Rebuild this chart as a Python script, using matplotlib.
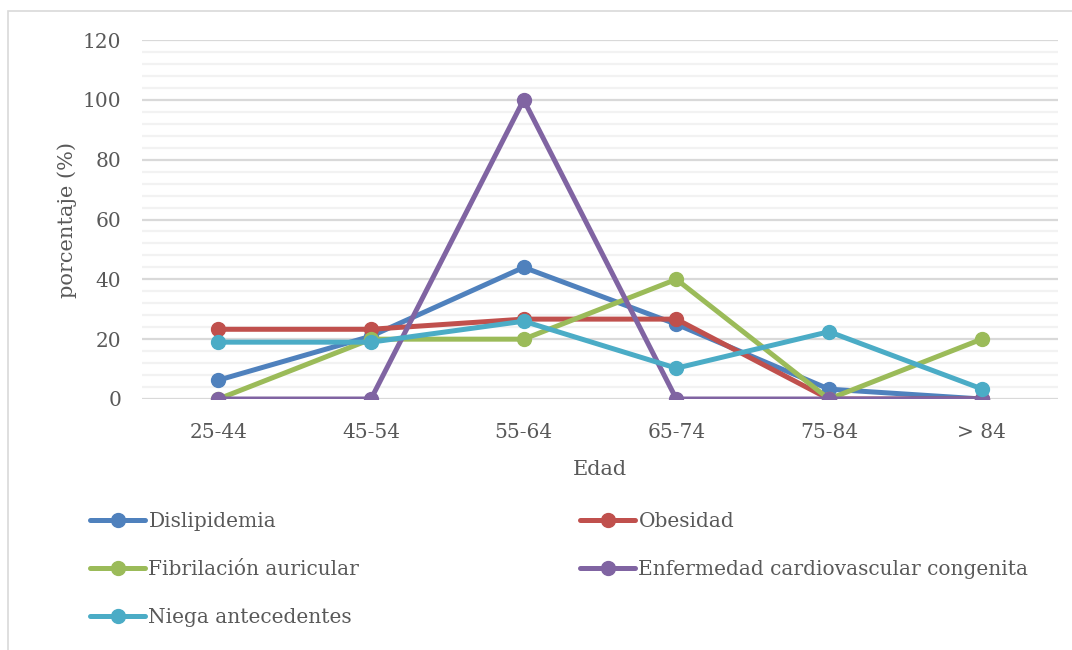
import matplotlib.pyplot as plt
from matplotlib.patches import Rectangle
from matplotlib.lines import Line2D

# age groups and percentage per antecedent
edades = ['25-44', '45-54', '55-64', '65-74', '75-84', '> 84']
dislipidemia = [6.3, 21, 44, 25, 3.3, 0]
obesidad = [23.3, 23.3, 26.7, 26.7, 0, 0]
fibrilacion = [0, 20, 20, 40, 0, 20]
enfermedad_congenita = [0, 0, 100, 0, 0, 0]
niega = [19, 19, 26, 10.3, 22.5, 3.4]

series = [
    ('Dislipidemia', dislipidemia, '#4F81BD'),
    ('Obesidad', obesidad, '#C0504D'),
    ('Fibrilación auricular', fibrilacion, '#9BBB59'),
    ('Enfermedad cardiovascular congenita', enfermedad_congenita, '#8064A2'),
    ('Niega antecedentes', niega, '#4BACC6'),
]

plt.rcParams['font.family'] = ['DejaVu Serif']
gris = '#595959'

W, H = 1072, 650
fig = plt.figure(figsize=(W / 100, H / 100), dpi=100)

# light frame around the chart (cut on right and bottom)
fig.patches.append(Rectangle((8 / W, -0.05), 1.1, 1 - 11 / H + 0.05,
                             transform=fig.transFigure, fill=False,
                             edgecolor='#D9D9D9', linewidth=1.2))

ax = fig.add_axes([142 / W, 1 - 399 / H, (1058 - 142) / W, (399 - 40) / H])
x = list(range(len(edades)))

for nombre, valores, color in series:
    ax.plot(x, valores, color=color, lw=3.6, marker='o', ms=10,
            solid_capstyle='round', label=nombre, zorder=3)

ax.set_xlim(-0.5, len(edades) - 0.5)
ax.set_ylim(0, 120)
ax.set_yticks(range(0, 121, 20))
ax.set_yticks(range(0, 121, 4), minor=True)
ax.grid(axis='y', which='major', color='#D9D9D9', lw=1.6, zorder=0)
ax.grid(axis='y', which='minor', color='#F2F2F2', lw=1.6, zorder=0)
ax.set_axisbelow(True)
for s in ax.spines.values():
    s.set_visible(False)

ax.set_xticks(x)
ax.set_xticklabels(edades)
ax.tick_params(axis='both', which='both', length=0, labelsize=14.5, colors=gris)
ax.tick_params(axis='x', pad=17)
ax.tick_params(axis='y', pad=15)
ax.set_xlabel('Edad', fontsize=15, color=gris, labelpad=13)
ax.set_ylabel('porcentaje (%)', fontsize=15, color=gris, labelpad=4)

# legend in two columns, placed as two blocks
def entrada(color):
    return Line2D([], [], color=color, lw=3.6, marker='o', ms=10,
                  solid_capstyle='round')

izq = [series[0], series[2], series[4]]
der = [series[1], series[3]]
opts = dict(frameon=False, fontsize=14.5, labelcolor=gris, handlelength=2.75,
            handletextpad=0.15, labelspacing=1.43, borderaxespad=0, borderpad=0,
            loc='upper left')
leg1 = fig.legend([entrada(c) for _, _, c in izq], [n for n, _, _ in izq],
                  bbox_to_anchor=(90 / W, 1 - 512 / H), **opts)
leg2 = fig.legend([entrada(c) for _, _, c in der], [n for n, _, _ in der],
                  bbox_to_anchor=(580 / W, 1 - 512 / H), **opts)

fig.savefig('out.png', dpi=100)
